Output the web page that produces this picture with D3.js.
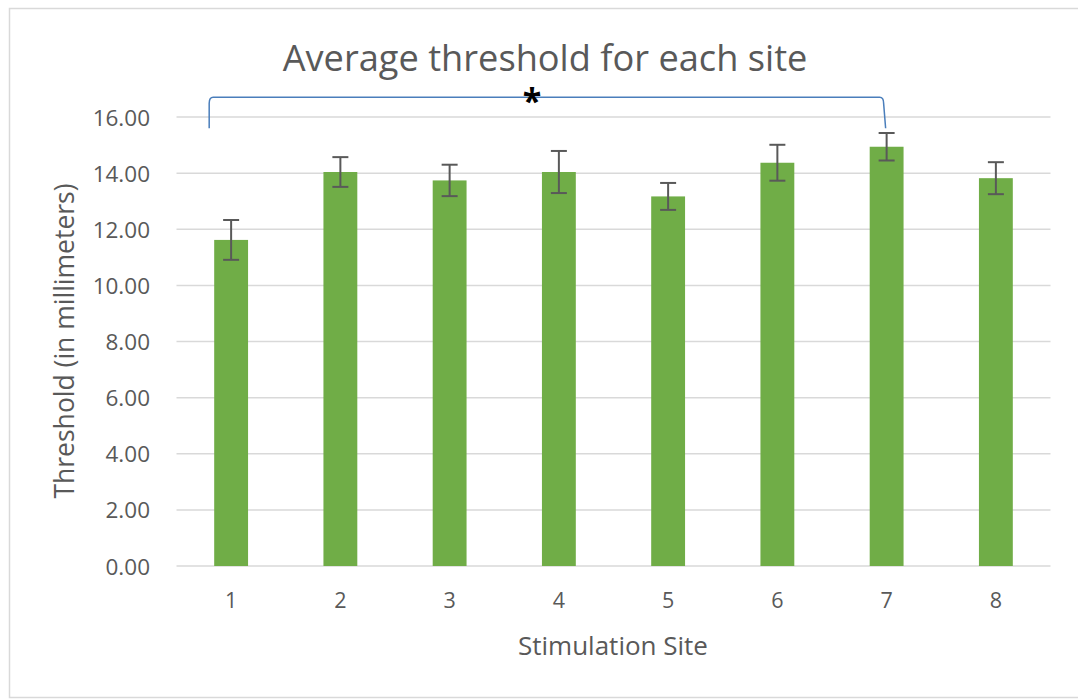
<!DOCTYPE html>
<meta charset="utf-8">
<script src="https://d3js.org/d3.v7.min.js"></script>
<style>
  body { margin: 0; background: #fff; }
  text { font-family: "Open Sans", sans-serif; fill: #595959; }
</style>
<div id="chart"></div>
<script>

// data
var sites = ["1", "2", "3", "4", "5", "6", "7", "8"];
var means = [11.62, 14.04, 13.74, 14.04, 13.17, 14.37, 14.94, 13.82];
var stdErr = [0.71, 0.53, 0.56, 0.75, 0.48, 0.64, 0.49, 0.57];
var yTicks = [0, 2, 4, 6, 8, 10, 12, 14, 16];
// significance bracket between two sites
var sigFrom = "1", sigTo = "7", sigLabel = "*";

var width = 1078, height = 700;

var svg = d3.select("#chart")
  .append("svg")
    .attr("width", width)
    .attr("height", height);

// outer chart frame
svg.append("rect")
    .attr("x", 9.5).attr("y", 8.5)
    .attr("width", 1080).attr("height", 689)
    .style("fill", "none")
    .style("stroke", "#d9d9d9")
    .style("stroke-width", 1.5);

var x = d3.scaleBand()
    .domain(sites)
    .range([176.5, 1050.5])
    .paddingInner(0.69)
    .paddingOuter(0.345);

var y = d3.scaleLinear()
    .domain([0, 16])
    .range([566, 117]);

// gridlines
svg.append("g")
  .selectAll("line")
  .data(yTicks)
  .enter()
  .append("line")
    .attr("x1", 176.5).attr("x2", 1050.5)
    .attr("y1", function(d) { return y(d); })
    .attr("y2", function(d) { return y(d); })
    .style("stroke", "#d9d9d9")
    .style("stroke-width", 1.5);

// y axis labels
var yAxis = svg.append("g")
    .attr("transform", "translate(150,0)")
    .call(d3.axisLeft(y).tickValues(yTicks).tickSize(0).tickPadding(0)
      .tickFormat(function(d) { return d.toFixed(2); }));
yAxis.select(".domain").remove();
yAxis.selectAll("text")
    .attr("dy", "0.36em")
    .style("font-size", "22.5px")
    .style("font-family", "'Open Sans', sans-serif")
    .style("fill", "#595959");

// bars
svg.append("g")
  .selectAll("rect")
  .data(sites)
  .enter()
  .append("rect")
    .attr("x", function(d) { return x(d); })
    .attr("width", x.bandwidth())
    .attr("y", function(d, i) { return y(means[i]); })
    .attr("height", function(d, i) { return y(0) - y(means[i]); })
    .style("fill", "#70ad47");

// error bars
var err = svg.append("g")
  .selectAll("g")
  .data(sites)
  .enter()
  .append("g")
    .style("stroke", "#595959")
    .style("stroke-width", 2);

err.append("line")
    .attr("x1", function(d) { return x(d) + x.bandwidth() / 2; })
    .attr("x2", function(d) { return x(d) + x.bandwidth() / 2; })
    .attr("y1", function(d, i) { return y(means[i] + stdErr[i]); })
    .attr("y2", function(d, i) { return y(means[i] - stdErr[i]); });

[1, -1].forEach(function(s) {
  err.append("line")
      .attr("x1", function(d) { return x(d) + x.bandwidth() / 2 - 8; })
      .attr("x2", function(d) { return x(d) + x.bandwidth() / 2 + 8; })
      .attr("y1", function(d, i) { return y(means[i] + s * stdErr[i]); })
      .attr("y2", function(d, i) { return y(means[i] + s * stdErr[i]); });
});

// x axis labels
var xAxis = svg.append("g")
    .attr("transform", "translate(0,566)")
    .call(d3.axisBottom(x).tickSize(0).tickPadding(0));
xAxis.select(".domain").remove();
xAxis.selectAll("text")
    .attr("y", 42)
    .attr("dy", 0)
    .style("font-size", "21.5px")
    .style("font-family", "'Open Sans', sans-serif")
    .style("fill", "#595959");

// significance bracket
var bx1 = x(sigFrom) - 5, bx2 = x(sigTo) + x.bandwidth() / 2 - 3;
var byTop = y(16.7), byBot = y(15.6);
svg.append("path")
    .attr("d", "M" + bx1 + "," + byBot + " L" + bx1 + "," + (byTop + 6) +
      " Q" + bx1 + "," + byTop + " " + (bx1 + 4) + "," + byTop +
      " L" + (bx2 - 4) + "," + byTop +
      " Q" + bx2 + "," + byTop + " " + bx2 + "," + (byTop + 6) +
      " L" + (bx2 + 2) + "," + byBot)
    .style("fill", "none")
    .style("stroke", "#4a7ebb")
    .style("stroke-width", 1.5);

svg.append("text")
    .attr("x", 532)
    .attr("y", byTop + 16)
    .attr("text-anchor", "middle")
    .style("font-size", "34px")
    .style("font-weight", "bold")
    .style("fill", "#000")
    .text(sigLabel);

// title
svg.append("text")
    .attr("x", 545)
    .attr("y", 71)
    .attr("text-anchor", "middle")
    .style("font-size", "36.2px")
    .text("Average threshold for each site");

// axis titles
svg.append("text")
    .attr("x", 613)
    .attr("y", 655)
    .attr("text-anchor", "middle")
    .style("font-size", "26px")
    .text("Stimulation Site");

svg.append("text")
    .attr("transform", "translate(74,341) rotate(-90)")
    .attr("text-anchor", "middle")
    .style("font-size", "26.5px")
    .text("Threshold (in millimeters)");

</script>
